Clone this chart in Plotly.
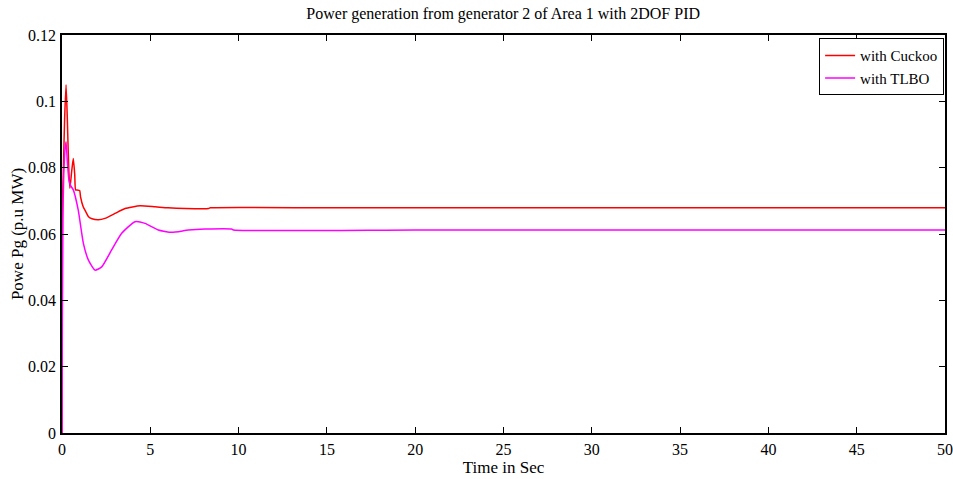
import plotly.graph_objects as go

# Time (s) and generator power (p.u. MW)
t_cuckoo = [0, 0.03, 0.08, 0.15, 0.23, 0.3, 0.38, 0.45, 0.55, 0.64, 0.72, 0.77, 0.85, 1.0, 1.05,
            1.2, 1.35, 1.5, 1.7, 2.06, 2.43, 3.0, 3.57, 4.42, 5.27, 6.0, 7.0, 8.3, 8.4, 15, 30, 50]
p_cuckoo = [0, 0.07, 0.08, 0.095, 0.105, 0.095, 0.08, 0.0738, 0.079, 0.0828, 0.078, 0.0733, 0.0733, 0.0731,
            0.0712, 0.0682, 0.0667, 0.0652, 0.0646, 0.0643, 0.0647, 0.0662, 0.0677, 0.0685, 0.0682, 0.0679,
            0.0677, 0.0677, 0.0679, 0.0679, 0.0679, 0.0679]

t_tlbo = [0, 0.02, 0.05, 0.1, 0.18, 0.23, 0.3, 0.4, 0.5, 0.64, 0.92, 1.21, 1.49, 1.87, 2.25, 2.81,
          3.38, 4.13, 4.7, 5.45, 6.21, 7.15, 8.1, 9.6, 9.7, 20, 35, 50]
p_tlbo = [0, 0.035, 0.065, 0.078, 0.086, 0.0878, 0.082, 0.076, 0.0745, 0.0733, 0.0672, 0.0572, 0.0522,
          0.0491, 0.0501, 0.0552, 0.0602, 0.0637, 0.0632, 0.0612, 0.0605, 0.0612, 0.0615, 0.0615, 0.0612,
          0.0612, 0.0612, 0.0612]

x_ticks = [0, 5, 10, 15, 20, 25, 30, 35, 40, 45, 50]
y_ticks = [0, 0.02, 0.04, 0.06, 0.08, 0.1, 0.12]
y_tick_labels = ["0", "0.02", "0.04", "0.06", "0.08", "0.1", "0.12"]

font = "Liberation Serif, Times New Roman, serif"

fig = go.Figure()
fig.add_trace(go.Scatter(x=t_cuckoo, y=p_cuckoo, mode="lines", name="with Cuckoo",
                         line=dict(color="#ff0000", width=1.5, shape="spline", smoothing=0.5)))
fig.add_trace(go.Scatter(x=t_tlbo, y=p_tlbo, mode="lines", name="with TLBO",
                         line=dict(color="#ff00ff", width=1.5, shape="spline", smoothing=0.5)))

axis_common = dict(showgrid=False, zeroline=False, showline=True, linecolor="black", linewidth=1.5,
                   mirror="ticks", ticks="inside", ticklen=6, tickcolor="black", tickwidth=1,
                   automargin=False, ticklabelstandoff=1,
                   tickfont=dict(family=font, size=16, color="black"))

fig.update_layout(
    width=953, height=479,
    margin=dict(l=62, r=8, t=35, b=46),
    paper_bgcolor="white", plot_bgcolor="white",
    title=dict(text="Power generation from generator 2 of Area 1 with 2DOF PID",
               x=0.528, xanchor="center", y=0.972, yanchor="middle",
               font=dict(family=font, size=16, color="black")),
    xaxis=dict(range=[0, 50], tickvals=x_ticks,
               title=dict(text="Time in Sec", font=dict(family=font, size=17, color="black"), standoff=0),
               **axis_common),
    yaxis=dict(range=[0, 0.12], tickvals=y_ticks, ticktext=y_tick_labels,
               title=dict(text="Powe Pg (p.u MW)", font=dict(family=font, size=17, color="black"), standoff=0),
               **axis_common),
    legend=dict(x=0.999, y=0.992, xanchor="right", yanchor="top", bgcolor="white",
                bordercolor="black", borderwidth=1, font=dict(family=font, size=15, color="black"),
                tracegroupgap=0, itemwidth=30),
    showlegend=True,
)

fig.write_html("out.html")
